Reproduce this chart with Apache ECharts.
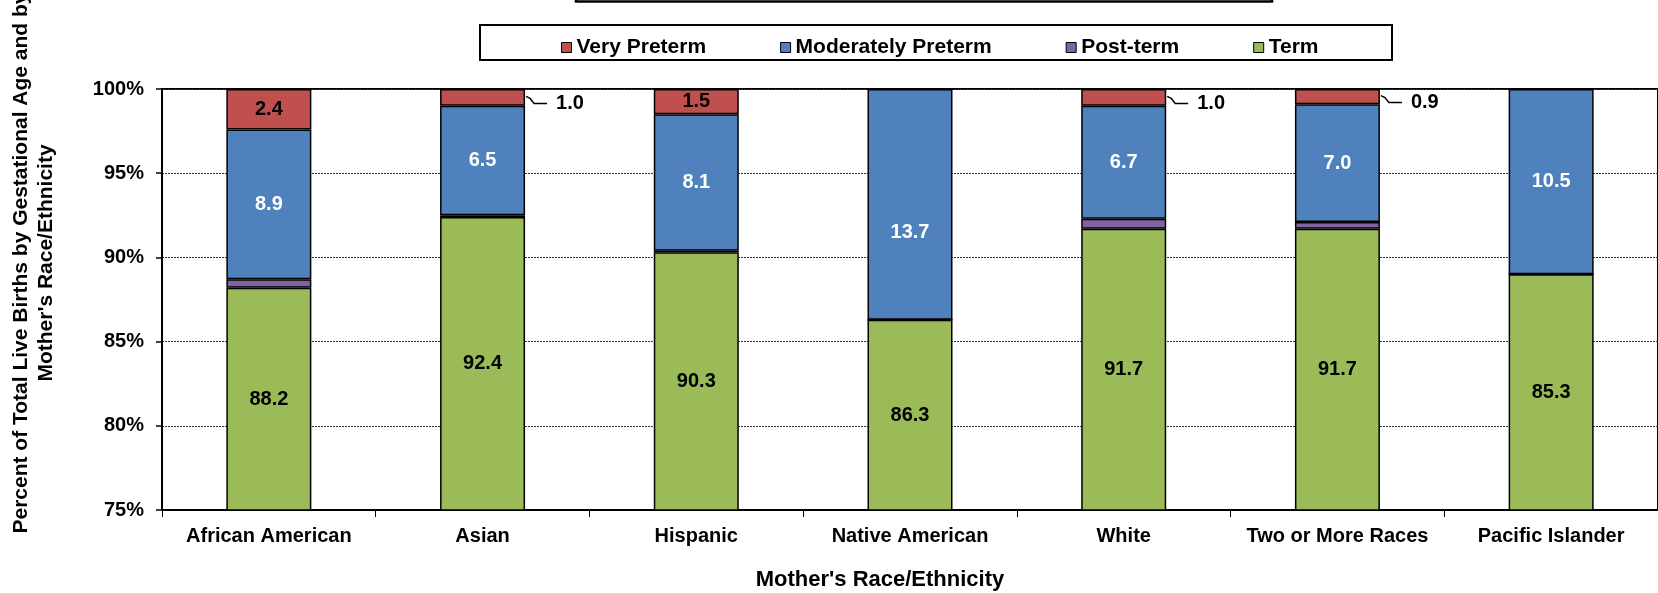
<!DOCTYPE html>
<html>
<head>
<meta charset="utf-8">
<script src="https://cdn.jsdelivr.net/npm/echarts@6/dist/echarts.min.js"></script>
<style>
html,body{margin:0;padding:0;background:#fff;}
#chart{width:1658px;height:593px;}
</style>
</head>
<body>
<div id="chart"></div>
<script>
const categories = ['African American', 'Asian', 'Hispanic', 'Native American', 'White', 'Two or More Races', 'Pacific Islander'];
const legendNames = ['Very Preterm', 'Moderately Preterm', 'Post-term', 'Term'];
// drawn segment heights (percent)
const term = [88.2, 92.4, 90.3, 86.3, 91.7, 91.7, 89.0];
const postTerm = [0.5, 0.1, 0.1, 0, 0.6, 0.4, 0];
const moderatelyPreterm = [8.9, 6.5, 8.1, 13.7, 6.7, 7.0, 11.0];
const veryPreterm = [2.4, 1.0, 1.5, 0, 1.0, 0.9, 0];
// printed data labels
const termLabels = ['88.2', '92.4', '90.3', '86.3', '91.7', '91.7', '85.3'];
const moderatelyLabels = ['8.9', '6.5', '8.1', '13.7', '6.7', '7.0', '10.5'];
const veryLabels = ['2.4', '1.0', '1.5', '', '1.0', '0.9', ''];
const yMin = 75, yMax = 100, yStep = 5;

const FONT = '"Liberation Sans", Arial, sans-serif';
const colors = { very: '#C0504D', moderate: '#4F81BD', post: '#8064A2', term: '#9BBB59' };
const BAR_W = 85;

const chart = echarts.init(document.getElementById('chart'));

const baseItem = { borderColor: '#000', borderWidth: 1.5 };
const labelFont = { fontFamily: FONT, fontSize: 20, fontWeight: 'bold' };
const isSmall = v => v > 0 && v < 1.2;

const moderateData = moderatelyPreterm.map((v, i) => {
  const d = { value: v };
  if (categories[i] === 'Native American') d.label = { offset: [0, 28] };
  return d;
});
const veryData = veryPreterm.map(v => {
  const d = { value: v };
  if (isSmall(v)) d.label = { position: 'right', distance: 31 };
  return d;
});
// leader-line anchors: middle of each small Very Preterm segment (computed from the stacked values)
const leaderData = [];
veryPreterm.forEach((v, i) => {
  if (isSmall(v)) {
    const top = term[i] + postTerm[i] + moderatelyPreterm[i] + v;
    leaderData.push([i, top - v / 2]);
  }
});

chart.setOption({
  animation: false,
  backgroundColor: '#fff',
  grid: { left: 162, right: -4, top: 89, bottom: 83, show: true, borderColor: '#000', borderWidth: 2, backgroundColor: 'transparent' },
  legend: {
    data: legendNames,
    left: 556, top: 32,
    itemWidth: 10, itemHeight: 10, itemGap: 74,
    icon: 'rect',
    itemStyle: { borderColor: '#000', borderWidth: 1 },
    textStyle: { fontFamily: FONT, fontSize: 21, fontWeight: 'bold', color: '#000' }
  },
  xAxis: {
    type: 'category',
    data: categories,
    axisLine: { lineStyle: { color: '#000', width: 2 } },
    axisTick: { show: true, length: 7, lineStyle: { color: '#000', width: 1 } },
    axisLabel: { margin: 16, color: '#000', fontFamily: FONT, fontSize: 20, fontWeight: 'bold', interval: 0 },
    splitLine: { show: false }
  },
  yAxis: {
    type: 'value',
    min: yMin, max: yMax, interval: yStep,
    axisLine: { show: true, lineStyle: { color: '#000', width: 2 } },
    axisTick: { show: true, length: 6, lineStyle: { color: '#000', width: 1.5 } },
    axisLabel: { margin: 18, color: '#000', fontFamily: FONT, fontSize: 20, fontWeight: 'bold', formatter: '{value}%' },
    splitLine: { show: true, lineStyle: { color: '#333', width: 1, type: [2, 1] } }
  },
  series: [
    {
      name: 'Term', type: 'bar', stack: 'all', barWidth: BAR_W, data: term,
      itemStyle: Object.assign({ color: colors.term }, baseItem),
      label: Object.assign({ show: true, position: 'inside', color: '#000', formatter: p => termLabels[p.dataIndex] }, labelFont)
    },
    {
      name: 'Post-term', type: 'bar', stack: 'all', barWidth: BAR_W, data: postTerm,
      itemStyle: Object.assign({ color: colors.post }, baseItem),
      label: { show: false }
    },
    {
      name: 'Moderately Preterm', type: 'bar', stack: 'all', barWidth: BAR_W, data: moderateData,
      itemStyle: Object.assign({ color: colors.moderate }, baseItem),
      label: Object.assign({ show: true, position: 'inside', color: '#fff', formatter: p => moderatelyLabels[p.dataIndex] }, labelFont)
    },
    {
      name: 'Very Preterm', type: 'bar', stack: 'all', barWidth: BAR_W, data: veryData,
      itemStyle: Object.assign({ color: colors.very }, baseItem),
      label: Object.assign({ show: true, position: 'inside', color: '#000', formatter: p => veryLabels[p.dataIndex] }, labelFont),
      labelLayout: function (p) {
        return isSmall(veryPreterm[p.dataIndex]) ? { dy: 6 } : {};
      }
    },
    {
      name: 'leader', type: 'custom', data: leaderData, silent: true, z: 5,
      renderItem: function (params, api) {
        const p = api.coord([api.value(0), api.value(1)]);
        const x0 = p[0] + BAR_W / 2 + 1;
        return {
          type: 'polyline',
          shape: { points: [[x0, p[1] - 1], [x0 + 4, p[1] + 1], [x0 + 8, p[1] + 6], [x0 + 21, p[1] + 6]] },
          style: { stroke: '#000', lineWidth: 1.5, fill: 'none' }
        };
      }
    }
  ],
  graphic: [
    { type: 'rect', z: 100, shape: { x: 576, y: -40, width: 696, height: 41.5 }, style: { fill: 'none', stroke: '#000', lineWidth: 2.5 } },
    { type: 'rect', z: -1, shape: { x: 480, y: 25, width: 912, height: 35 }, style: { fill: '#fff', stroke: '#000', lineWidth: 2 } },
    { type: 'text', x: 880, y: 580, style: { text: "Mother's Race/Ethnicity", fill: '#000', font: 'bold 22px ' + FONT, textAlign: 'center', textVerticalAlign: 'middle' } },
    { type: 'text', x: 34, y: 263, rotation: Math.PI / 2, style: { text: 'Percent of Total Live Births by Gestational Age and by\nMother\'s Race/Ethnicity', fill: '#000', font: 'bold 21px ' + FONT, textAlign: 'center', textVerticalAlign: 'middle', lineHeight: 25 } }
  ]
});
</script>
</body>
</html>
